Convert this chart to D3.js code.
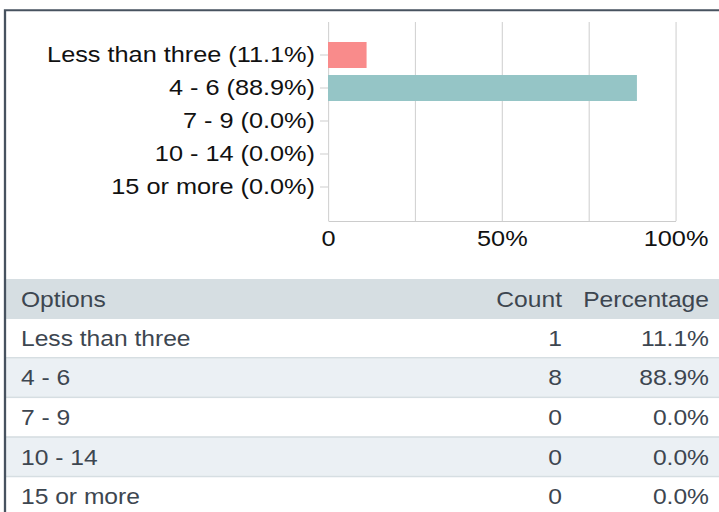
<!DOCTYPE html>
<html>
<head>
<meta charset="utf-8">
<script src="https://cdn.jsdelivr.net/npm/d3@7"></script>
<style>
  body { margin: 0; background: #fff; }
  svg { display: block; }
  text { font-family: "Liberation Sans", Arial, sans-serif; }
</style>
</head>
<body>
<svg id="chart"></svg>
<script>
/////////////////////////////////////////////////////////////////////
// Data
var categories = ["Less than three", "4 - 6", "7 - 9", "10 - 14", "15 or more"];
var counts = [1, 8, 0, 0, 0];
var percents = [11.1, 88.9, 0.0, 0.0, 0.0];
var barColors = ["#f98b8b", "#95c5c6", "#f98b8b", "#95c5c6", "#f98b8b"];
var gridTicks = [0, 25, 50, 75, 100];
var tickLabels = {0: "0", 50: "50%", 100: "100%"};
var headers = ["Options", "Count", "Percentage"];

/////////////////////////////////////////////////////////////////////
// Layout (the source picture is stretched horizontally, so we draw in
// a narrower viewBox and let the svg stretch it back)
var s = 1.15;
var W = 719 / s, H = 512;
function px(x) { return x / s; }

var svg = d3.select("#chart")
  .attr("width", 719)
  .attr("height", H)
  .attr("viewBox", "0 0 " + W + " " + H)
  .attr("preserveAspectRatio", "none");

var plot = {left: px(328), right: px(675.5), top: 22, bottom: 221};

var xScale = d3.scaleLinear().domain([0, 100]).range([plot.left, plot.right]);
var yScale = d3.scaleBand().domain(categories)
  .range([38.5, 203.5]).paddingInner(0.212).paddingOuter(0.106);

/////////////////////////////////////////////////////////////////////
// Chart
var xAxis = svg.append("g")
  .attr("transform", "translate(0," + plot.bottom + ")")
  .call(d3.axisBottom(xScale)
    .tickValues(gridTicks)
    .tickSize(-(plot.bottom - plot.top))
    .tickSizeOuter(0)
    .tickPadding(9)
    .tickFormat(function(d) { return tickLabels[d] || ""; }));
xAxis.select(".domain").attr("stroke", "#cccccc").attr("stroke-width", 1);
xAxis.selectAll(".tick line").attr("stroke", "#d4d4d4").attr("stroke-width", 1);
xAxis.selectAll(".tick text")
  .attr("fill", "#111")
  .style("font-size", "22px");

svg.selectAll(".bar")
  .data(categories)
  .enter()
  .append("rect")
  .attr("class", "bar")
  .attr("x", xScale(0))
  .attr("y", function(d) { return yScale(d); })
  .attr("width", function(d, i) { return xScale(percents[i]) - xScale(0); })
  .attr("height", yScale.bandwidth())
  .attr("fill", function(d, i) { return barColors[i]; });

var yAxis = svg.append("g")
  .attr("transform", "translate(" + plot.left + ",0)")
  .call(d3.axisLeft(yScale)
    .tickSize(px(8))
    .tickPadding(px(5))
    .tickFormat(function(d, i) { return d + " (" + percents[i].toFixed(1) + "%)"; }));
yAxis.select(".domain").remove();
yAxis.selectAll(".tick line").attr("stroke", "#cccccc");
yAxis.selectAll(".tick text")
  .attr("fill", "#111")
  .attr("dy", "0.33em")
  .style("font-size", "22px");

/////////////////////////////////////////////////////////////////////
// Table
var tableLeft = px(6), headTop = 279, headH = 40, rowH = 39.6;
var colX = [px(21), px(562), px(709)];
var colAnchor = ["start", "end", "end"];

svg.append("rect")
  .attr("x", tableLeft).attr("y", headTop)
  .attr("width", W - tableLeft).attr("height", headH)
  .attr("fill", "#d6dee2");

svg.selectAll(".head")
  .data(headers)
  .enter()
  .append("text")
  .attr("class", "head")
  .attr("x", function(d, i) { return colX[i]; })
  .attr("y", headTop + headH / 2 + 7.7)
  .attr("text-anchor", function(d, i) { return colAnchor[i]; })
  .attr("fill", "#3d4650")
  .style("font-size", "21.4px")
  .text(function(d) { return d; });

var rows = svg.selectAll(".row")
  .data(categories)
  .enter()
  .append("g")
  .attr("class", "row")
  .attr("transform", function(d, i) { return "translate(0," + (headTop + headH + i * rowH) + ")"; });

rows.append("rect")
  .attr("x", tableLeft).attr("y", 0)
  .attr("width", W - tableLeft).attr("height", rowH)
  .attr("fill", function(d, i) { return i % 2 ? "#ebf0f4" : "#ffffff"; });

rows.append("rect")
  .attr("x", tableLeft).attr("y", rowH - 1.6)
  .attr("width", W - tableLeft).attr("height", 1.8)
  .attr("fill", function(d, i) { return i < categories.length - 1 ? "#d6dee2" : "none"; });

rows.append("text")
  .attr("x", colX[0]).attr("y", rowH / 2 + 7)
  .attr("fill", "#3d4650")
  .style("font-size", "21.4px")
  .text(function(d) { return d; });

rows.append("text")
  .attr("x", colX[1]).attr("y", rowH / 2 + 7)
  .attr("text-anchor", "end")
  .attr("fill", "#3d4650")
  .style("font-size", "21.4px")
  .text(function(d, i) { return counts[i]; });

rows.append("text")
  .attr("x", colX[2]).attr("y", rowH / 2 + 7)
  .attr("text-anchor", "end")
  .attr("fill", "#3d4650")
  .style("font-size", "21.4px")
  .text(function(d, i) { return percents[i].toFixed(1) + "%"; });

/////////////////////////////////////////////////////////////////////
// Frame (top and left edges only)
svg.append("path")
  .attr("d", "M" + px(5) + "," + H + "V10.2H" + W)
  .attr("fill", "none")
  .attr("stroke", "#47525f")
  .attr("stroke-width", 2);
</script>
</body>
</html>
